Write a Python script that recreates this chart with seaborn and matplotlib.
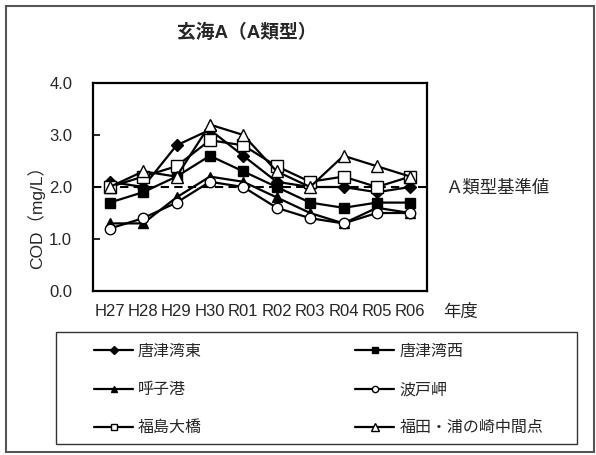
import matplotlib
matplotlib.use("Agg")
import matplotlib.pyplot as plt
from matplotlib.patches import Rectangle
import matplotlib.transforms as mtransforms
import seaborn as sns
import pandas as pd

years = ["H27", "H28", "H29", "H30", "R01", "R02", "R03", "R04", "R05", "R06"]
sites = ["唐津湾東", "唐津湾西", "呼子港", "波戸岬", "福島大橋", "福田・浦の崎中間点"]
karatsu_east = [2.1, 2.0, 2.8, 3.1, 2.6, 2.1, 2.0, 2.0, 1.9, 2.0]
karatsu_west = [1.7, 1.9, 2.2, 2.6, 2.3, 2.0, 1.7, 1.6, 1.7, 1.7]
yobuko = [1.3, 1.3, 1.8, 2.2, 2.1, 1.8, 1.5, 1.3, 1.6, 1.5]
hadomisaki = [1.2, 1.4, 1.7, 2.1, 2.0, 1.6, 1.4, 1.3, 1.5, 1.5]
fukushima_ohashi = [2.0, 2.2, 2.4, 2.9, 2.8, 2.4, 2.1, 2.2, 2.0, 2.2]
fukuda_uranosaki = [2.0, 2.3, 2.2, 3.2, 3.0, 2.3, 2.0, 2.6, 2.4, 2.2]
series = [karatsu_east, karatsu_west, yobuko, hadomisaki, fukushima_ohashi, fukuda_uranosaki]
standard_value = 2.0
y_ticks = [0.0, 1.0, 2.0, 3.0, 4.0]

title = "玄海A（A類型）"
ylabel = "COD（mg/L）"
xlabel = "年度"
std_label = "Ａ類型基準値"

sns.set_style("white")
plt.rcParams["font.family"] = ["Liberation Sans", "Noto Sans CJK JP"]

markers = ["D", "s", "^", "o", "s", "^"]
faces = ["black", "black", "black", "white", "white", "white"]
msizes = [6.5, 6.5, 7.5, 7.5, 8, 8.5]

fig = plt.figure(figsize=(5.96, 4.55), dpi=100)
ax = fig.add_axes([93/596, 1-291/455, (427-93)/596, (291-83)/455])

for name, vals, mk, fc, ms in zip(sites, series, markers, faces, msizes):
    df = pd.DataFrame({"年度": years, "COD": vals})
    sns.lineplot(data=df, x="年度", y="COD", ax=ax, color="black", lw=1.6,
                 marker=mk, markersize=ms, markerfacecolor=fc,
                 markeredgecolor="black", markeredgewidth=1.0, label=name,
                 sort=False)

ax.axhline(standard_value, color="black", lw=1.5, ls=(0, (4, 2.5)), zorder=1)

ax.set_xlim(-0.5, len(years) - 0.5)
ax.set_ylim(0, 4)
ax.set_yticks(y_ticks)
ax.set_yticklabels([f"{v:.1f}" for v in y_ticks], fontsize=12)
ax.set_xticks(range(len(years)))
ax.set_xticklabels(years, fontsize=12)
ax.set_xticks([i + 0.5 for i in range(len(years) - 1)], minor=True)
ax.tick_params(axis="x", which="major", length=0, pad=9)
ax.tick_params(axis="x", which="minor", direction="in", length=5, width=1.2, color="black")
ax.tick_params(axis="y", direction="in", length=5, width=1.2, color="black", pad=15, left=True)
ax.set_xlabel("")
ax.set_ylabel("")
for sp in ax.spines.values():
    sp.set_visible(True)
    sp.set_color("black")
    sp.set_linewidth(1.6)

handles, labels = ax.get_legend_handles_labels()
ax.get_legend().remove()
order = [0, 2, 4, 1, 3, 5]
fig.legend([handles[i] for i in order], [labels[i] for i in order], ncol=2,
           loc="upper left", bbox_to_anchor=(94/596, 1-344/455), frameon=False,
           borderpad=0, borderaxespad=0, fontsize=11.5, handlelength=2.45,
           handletextpad=0.3, columnspacing=9.6, labelspacing=1.45, markerscale=0.6)

fig.patches.append(Rectangle((56/596, 1-444/455), (577-56)/596, (444-332)/455,
                             transform=fig.transFigure, fill=False, ec="#333333", lw=1.0))
fig.patches.append(Rectangle((6/596, 3/455), (594-6)/596, (452-6)/455,
                             transform=fig.transFigure, fill=False, ec="#555555", lw=1.5))

fig.text(247/596, 1-33/455, title, ha="center", va="center", fontsize=13.5,
         fontweight="bold", family=["Liberation Sans", "Noto Sans CJK JP"])
fig.text(36/596, 1-213/455, ylabel, rotation=90, ha="center", va="center", fontsize=12.5)
fig.text(443/596, 1-312/455, xlabel, ha="left", va="center", fontsize=12.5)
trans = mtransforms.blended_transform_factory(ax.transAxes, ax.transData)
ax.text((445-93)/334, standard_value, std_label, transform=trans, ha="left", va="center",
        fontsize=12.5)

fig.savefig("out.png", dpi=100, facecolor="white")
